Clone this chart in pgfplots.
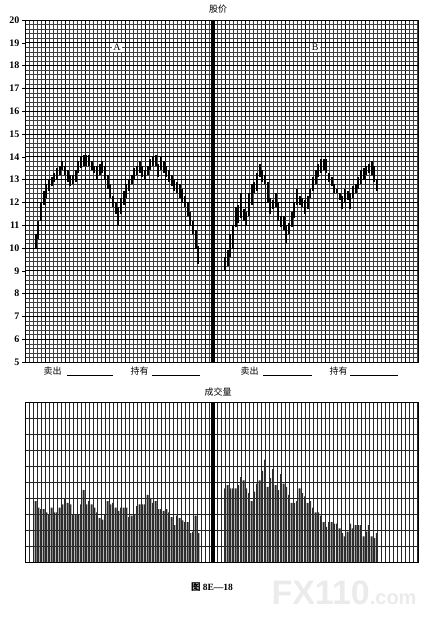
\documentclass[border=0pt]{standalone}
\usepackage{pgfplots}
\usepackage{pgfplotstable}
\pgfplotsset{compat=1.18}
\usepackage{fontspec}
\setmainfont{Liberation Serif}
\setsansfont{Liberation Sans}
\newfontfamily\cjk{Noto Sans CJK SC}

% price bars: day, low, high
\pgfplotstableread{
d lo hi
4 10.0 10.6
5 10.4 11.2
6 11.2 12.0
7 11.9 12.5
8 12.2 12.8
9 12.5 13.0
10 12.7 13.1
11 12.9 13.3
12 13.0 13.5
13 13.2 13.6
14 13.4 13.8
15 13.2 13.6
16 12.9 13.4
17 12.7 13.2
18 12.8 13.2
19 12.9 13.4
20 13.3 13.8
21 13.5 14.0
22 13.6 14.1
23 13.6 14.1
24 13.6 14.1
25 13.4 13.8
26 13.3 13.6
27 13.0 13.6
28 13.2 13.7
29 13.3 13.8
30 13.0 13.6
31 12.6 13.2
32 12.2 12.8
33 11.8 12.3
34 11.5 12.0
35 11.0 11.8
36 11.5 12.2
37 11.9 12.5
38 12.2 12.8
39 12.5 13.0
40 12.8 13.2
41 13.0 13.5
42 13.2 13.6
43 13.3 13.8
44 13.1 13.6
45 13.0 13.4
46 13.2 13.6
47 13.4 13.9
48 13.6 14.0
49 13.6 14.1
50 13.1 13.7
51 13.4 14.0
52 13.3 13.8
53 13.1 13.6
54 12.9 13.4
55 12.7 13.2
56 12.5 13.0
57 12.4 12.9
58 12.2 12.8
59 12.0 12.6
60 11.8 12.3
61 11.4 12.0
62 11.0 11.6
63 10.6 11.2
64 10.0 10.8
65 9.3 10.1
}\priceA

\pgfplotstableread{
d lo hi
75 9.0 9.6
76 9.2 9.9
77 9.6 10.6
78 10.0 11.0
79 10.9 11.8
80 11.1 11.9
81 11.3 12.4
82 11.2 11.7
83 11.0 11.6
84 11.4 12.4
85 11.9 12.8
86 12.4 12.9
87 12.5 13.3
88 13.1 13.7
89 12.9 13.4
90 12.8 13.2
91 12.0 12.9
92 11.5 12.2
93 11.7 12.1
94 11.8 12.4
95 11.2 12.0
96 10.9 11.4
97 10.8 11.4
98 10.2 11.0
99 10.6 11.1
100 10.9 11.6
101 11.3 12.0
102 11.9 12.6
103 11.9 12.3
104 11.8 12.2
105 11.5 12.1
106 11.7 12.3
107 12.2 12.6
108 12.5 13.1
109 12.8 13.4
110 13.1 13.7
111 13.3 13.9
112 13.4 13.9
113 13.3 13.9
114 12.9 13.3
115 12.7 13.1
116 12.4 12.8
117 12.4 12.6
118 12.1 12.4
119 11.7 12.3
120 12.0 12.6
121 12.1 12.5
122 11.7 12.4
123 12.2 12.7
124 12.4 12.8
125 12.6 13.1
126 12.8 13.4
127 13.0 13.5
128 13.2 13.6
129 13.3 13.7
130 13.2 13.8
131 12.9 13.6
132 12.5 13.0
}\priceB

% volume: day, value
\pgfplotstableread{
d v
4 3.8
5 3.4
6 3.3
7 3.3
8 3.1
9 3.0
10 3.4
11 3.1
12 3.1
13 3.4
14 3.6
15 4.0
16 3.7
17 3.6
18 3.0
19 3.0
20 3.0
21 3.6
22 4.5
23 3.6
24 3.8
25 3.6
26 3.4
27 3.1
28 2.75
29 2.65
30 3.0
31 3.8
32 3.6
33 3.7
34 3.4
35 3.2
36 3.4
37 3.4
38 3.4
39 2.8
40 2.9
41 3.0
42 3.5
43 3.6
44 3.6
45 3.6
46 4.2
47 4.0
48 3.7
49 3.8
50 3.3
51 3.3
52 3.2
53 3.3
54 3.1
55 2.8
56 2.3
57 2.9
58 2.75
59 2.6
60 2.5
61 2.5
62 1.8
63 1.9
64 2.9
65 1.8
}\volA

\pgfplotstableread{
d v
75 4.6
76 4.8
77 4.6
78 4.6
79 4.6
80 4.8
81 5.3
82 5.1
83 4.6
84 4.3
85 3.8
86 4.4
87 4.9
88 5.1
89 5.7
90 6.4
91 4.7
92 5.25
93 5.8
94 4.8
95 4.5
96 5.5
97 4.9
98 4.7
99 4.2
100 3.7
101 3.7
102 3.8
103 4.6
104 4.3
105 4.1
106 3.7
107 3.8
108 3.4
109 3.1
110 3.1
111 2.9
112 2.5
113 2.2
114 2.5
115 2.5
116 2.4
117 2.4
118 2.1
119 1.8
120 1.6
121 1.9
122 2.4
123 2.1
124 2.3
125 2.3
126 2.3
127 1.6
128 1.9
129 2.3
130 1.6
131 1.5
132 1.8
}\volB

\pgfplotsset{
  chartgrid/.style={
    scale only axis, width=393pt,
    xmin=0, xmax=147.4,
    xticklabels={}, xtick style={draw=none},
    grid=both,
    axis line style={black, line width=0.9pt},
  },
  hlbars/.style={
    draw=none, mark=none,
    error bars/.cd, y dir=plus, y explicit,
    error mark=none,
    error bar style={draw=black, solid, line width=1.8pt},
  },
}

\begin{document}
\begin{tikzpicture}
\path[use as bounding box] (0,0) rectangle (438pt,-627pt);

% price panel
\begin{axis}[chartgrid,
  at={(25pt,-362pt)}, anchor=south west, height=342pt,
  xtick={0,7.5,...,150}, minor x tick num=4,
  minor grid style={black!75, line width=0.45pt},
  major grid style={black, line width=0.7pt},
  ymin=5, ymax=20, ytick={5,...,20}, minor y tick num=4,
  ytick pos=left, tick align=outside,
  major tick length=3pt, minor tick length=0pt,
  ytick style={black, line width=0.6pt},
  yticklabel style={font=\fontsize{10}{11}\selectfont\bfseries, xshift=1pt},
  /pgf/number format/assume math mode=true,
]
\addplot[hlbars] table[x=d, y=lo, y error expr=\thisrow{hi}-\thisrow{lo}] {\priceA};
\addplot[hlbars] table[x=d, y=lo, y error expr=\thisrow{hi}-\thisrow{lo}] {\priceB};
\addplot[black, line width=4pt] coordinates {(70.5,5) (70.5,20)};
\node[fill=white, inner sep=1.5pt, font=\fontsize{10}{11}\selectfont] at (axis cs:34.5,18.8) {A};
\node[fill=white, inner sep=1.5pt, font=\fontsize{10}{11}\selectfont] at (axis cs:108.8,18.8) {B};
\end{axis}

% volume panel
\begin{axis}[chartgrid,
  at={(25pt,-562pt)}, anchor=south west, height=160pt,
  xtick={0,1.5,...,148}, minor x tick num=0,
  major grid style={black!85, line width=0.5pt},
  ymin=0, ymax=10, ytick={0,...,10}, yticklabels={}, ytick style={draw=none},
  minor y tick num=0,
]
\addplot[ybar, bar width=1.9pt, fill=black!82, draw=none] table[x=d, y=v] {\volA};
\addplot[ybar, bar width=1.9pt, fill=black!82, draw=none] table[x=d, y=v] {\volB};
\addplot[black, line width=4pt] coordinates {(70.5,0) (70.5,10)};
\end{axis}

% titles and captions
\node[font=\cjk\fontsize{9}{10}\selectfont] at (218pt,-9pt) {股价};
\node[font=\cjk\fontsize{9}{10}\selectfont] at (218pt,-392pt) {成交量};
\node[font=\cjk\fontsize{9}{10}\selectfont, anchor=west] at (40pt,-371pt) {卖出};
\node[font=\cjk\fontsize{9}{10}\selectfont, anchor=west] at (127pt,-371pt) {持有};
\node[font=\cjk\fontsize{9}{10}\selectfont, anchor=west] at (237pt,-371pt) {卖出};
\node[font=\cjk\fontsize{9}{10}\selectfont, anchor=west] at (326pt,-371pt) {持有};
\draw[line width=0.6pt] (67pt,-375pt) -- (113pt,-375pt);
\draw[line width=0.6pt] (152pt,-375pt) -- (200pt,-375pt);
\draw[line width=0.6pt] (263pt,-375pt) -- (312pt,-375pt);
\draw[line width=0.6pt] (350pt,-375pt) -- (398pt,-375pt);
\node[font=\fontsize{9.5}{10}\selectfont\bfseries] at (212pt,-587pt) {{\cjk\bfseries 图} 8E—18};
\node[text=black!8, font=\sffamily\bfseries\fontsize{34}{34}\selectfont, anchor=base west] at (268pt,-604pt) {FX110{\fontsize{20}{20}\selectfont .com}};
\end{tikzpicture}
\end{document}
